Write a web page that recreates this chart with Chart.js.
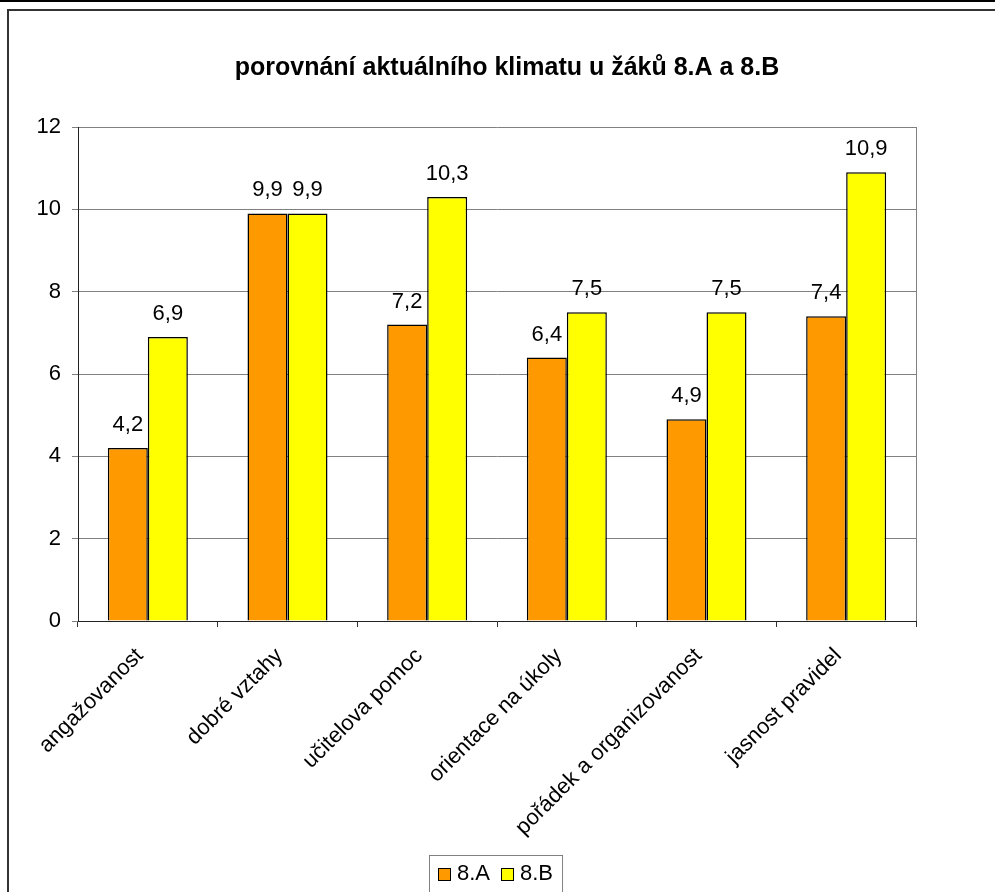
<!DOCTYPE html>
<html>
<head>
<meta charset="utf-8">
<script src="https://cdn.jsdelivr.net/npm/chart.js@4/dist/chart.umd.min.js"></script>
<style>
  html, body { margin: 0; padding: 0; background: #fff; overflow: hidden; }
  canvas { display: block; }
</style>
</head>
<body>
<canvas id="klima" width="995" height="892"></canvas>
<script>
// data
const categories = ['angažovanost', 'dobré vztahy', 'učitelova pomoc', 'orientace na úkoly', 'pořádek a organizovanost', 'jasnost pravidel'];
const seriesNames = ['8.A', '8.B'];
const class8A = [4.2, 9.9, 7.2, 6.4, 4.9, 7.4];
const class8B = [6.9, 9.9, 10.3, 7.5, 7.5, 10.9];
const yMin = 0, yMax = 12, yStep = 2;

const titleText = 'porovnání aktuálního klimatu u žáků 8.A a 8.B';
const FONT = '"Liberation Sans", Arial, sans-serif';

const fmt = v => v.toFixed(1).replace('.', ',');

// frame, title, plot border, value labels and legend
const decorations = {
    id: 'decorations',
    beforeDraw(chart) {
        const { ctx, width, height } = chart;
        ctx.save();
        ctx.fillStyle = '#fff';
        ctx.fillRect(0, 0, width, height);
        ctx.fillStyle = '#000';
        ctx.fillRect(0, 0, width, 2);
        ctx.strokeStyle = '#333';
        ctx.lineWidth = 2;
        ctx.beginPath();
        ctx.moveTo(8, height + 5);
        ctx.lineTo(8, 10);
        ctx.lineTo(width + 5, 10);
        ctx.stroke();
        ctx.restore();
    },
    afterDatasetsDraw(chart) {
        const { ctx } = chart;
        ctx.save();
        ctx.font = '22px ' + FONT;
        ctx.fillStyle = '#000';
        ctx.textAlign = 'center';
        ctx.textBaseline = 'alphabetic';
        chart.data.datasets.forEach((ds, i) => {
            chart.getDatasetMeta(i).data.forEach((bar, j) => {
                ctx.fillText(fmt(ds.data[j]), bar.x, bar.y - 17);
            });
        });
        ctx.restore();
    },
    afterDraw(chart) {
        const { ctx, chartArea } = chart;
        ctx.save();
        // right edge of plot area
        ctx.strokeStyle = '#808080';
        ctx.lineWidth = 1;
        ctx.beginPath();
        ctx.moveTo(chartArea.right + 0.5, chartArea.top);
        ctx.lineTo(chartArea.right + 0.5, chartArea.bottom);
        ctx.stroke();

        // title
        ctx.fillStyle = '#000';
        ctx.font = 'bold 25px ' + FONT;
        ctx.textAlign = 'center';
        ctx.textBaseline = 'alphabetic';
        ctx.fillText(titleText, 507, 75);

        // legend
        ctx.font = '22px ' + FONT;
        ctx.textAlign = 'left';
        const box = 12, gapBox = 7, gapItem = 11, padX = 9;
        const items = chart.data.datasets.map(ds => ({
            label: ds.label, color: ds.backgroundColor,
            w: box + gapBox + ctx.measureText(ds.label).width
        }));
        const inner = items.reduce((s, it) => s + it.w, 0) + gapItem * (items.length - 1);
        const lx = Math.round(496 - inner / 2 - padX);
        const ly = 855;
        ctx.strokeStyle = '#808080';
        ctx.strokeRect(lx + 0.5, ly + 0.5, inner + padX * 2, 40);
        let x = lx + padX;
        const cy = 874;
        items.forEach(it => {
            ctx.fillStyle = it.color;
            ctx.fillRect(x, cy - box / 2, box, box);
            ctx.strokeStyle = '#000';
            ctx.strokeRect(x + 0.5, cy - box / 2 + 0.5, box, box);
            ctx.fillStyle = '#000';
            ctx.textBaseline = 'middle';
            ctx.fillText(it.label, x + box + gapBox, cy);
            x += it.w + gapItem;
        });
        ctx.restore();
    }
};

new Chart(document.getElementById('klima'), {
    type: 'bar',
    data: {
        labels: categories,
        datasets: [{
            label: seriesNames[0],
            data: class8A,
            backgroundColor: '#FF9900',
            borderColor: '#000',
            borderWidth: 1.5,
            categoryPercentage: 0.573,
            barPercentage: 1.0
        }, {
            label: seriesNames[1],
            data: class8B,
            backgroundColor: '#FFFF00',
            borderColor: '#000',
            borderWidth: 1.5,
            categoryPercentage: 0.573,
            barPercentage: 1.0
        }]
    },
    options: {
        responsive: false,
        animation: false,
        layout: { padding: { left: 8, right: 79, top: 127, bottom: 0 } },
        plugins: {
            legend: { display: false },
            title: { display: false },
            tooltip: { enabled: false }
        },
        scales: {
            x: {
                grid: {
                    display: true,
                    offset: true,
                    drawOnChartArea: false,
                    drawTicks: true,
                    tickLength: 6,
                    color: '#333'
                },
                border: { color: '#222', width: 1 },
                ticks: {
                    color: '#000',
                    font: { family: FONT, size: 22 },
                    minRotation: 45,
                    maxRotation: 45,
                    padding: 16,
                    labelOffset: -8
                },
                afterFit(scale) { scale.height = 892 - 621; }
            },
            y: {
                min: yMin,
                max: yMax,
                grid: { color: '#808080', tickLength: 6 },
                border: { color: '#222', width: 1 },
                ticks: {
                    stepSize: yStep,
                    color: '#000',
                    padding: 11,
                    font: { family: FONT, size: 22 }
                },
                afterFit(scale) { scale.width = 70; }
            }
        }
    },
    plugins: [decorations]
});
</script>
</body>
</html>
